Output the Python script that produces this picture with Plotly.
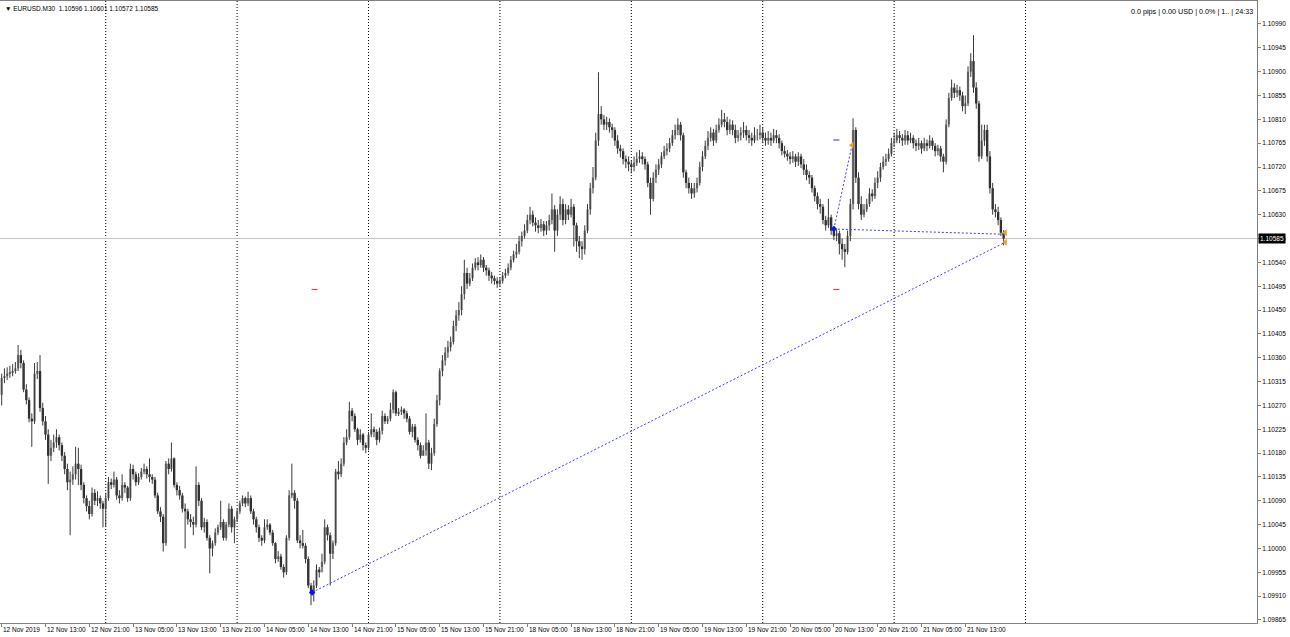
import plotly.graph_objects as go

# ---------------- data (prices in points above 1.10000) ----------------
BASE = 1.10000
PT = 0.00001

open_pts = [
    290, 322, 325, 330, 332, 335, 340, 365, 350, 300,
    280, 245, 240, 330, 335, 265, 240, 215, 175, 190,
    200, 210, 195, 175, 150, 125, 130, 140, 160, 150,
    120, 95, 80, 65, 105, 90, 95, 85, 75, 95,
    125, 120, 130, 100, 95, 120, 115, 95, 150, 140,
    125, 135, 145, 150, 140, 135, 130, 100, 70, 60,
    10, 160, 150, 170, 120, 110, 100, 75, 70, 55,
    50, 45, 120, 90, 40, 50, 20, 0, 10, 30,
    40, 50, 20, 45, 75, 40, 55, 70, 85, 95,
    85, 95, 70, 55, 40, 20, 15, 40, 45, 30,
    10, -20, -15, -35, -45, 20, 100, 105, 90, 15,
    10, 5, -20, -70, -85, -70, -40, -45, -25, 40,
    25, -10, 10, 145, 140, 160, 200, 210, 260, 250,
    225, 205, 215, 195, 190, 215, 225, 220, 205, 222,
    250, 240, 245, 262, 295, 255, 258, 262, 255, 245,
    220, 230, 205, 195, 175, 185, 200, 160, 180, 235,
    280, 335, 355, 370, 380, 390, 420, 440, 450, 480,
    520, 500, 510, 530, 540, 535, 545, 530, 525, 515,
    510, 505, 500, 505, 515, 520, 530, 545, 555, 560,
    580, 590, 600, 620, 630, 615, 610, 605, 612, 600,
    610, 620, 640, 600, 630, 650, 620, 640, 630, 645,
    610, 580, 570, 565, 600, 640, 680, 700, 770, 820,
    810, 800, 805, 795, 790, 770, 755, 750, 735, 730,
    725, 720, 728, 735, 740, 735, 725, 690, 660, 700,
    715, 725, 740, 750, 755, 765, 780, 790, 800, 780,
    710, 690, 680, 670, 680, 690, 720, 740, 760, 775,
    785, 770, 790, 800, 810, 805, 790, 800, 790, 775,
    780, 785, 790, 780, 775, 770, 780, 780, 785, 775,
    770, 775, 770, 780, 775, 765, 750, 745, 740, 735,
    740, 730, 740, 725, 715, 705, 700, 680, 665, 650,
    645, 620, 610, 625, 600, 590, 595, 575, 565, 560,
    590, 650, 790, 700, 650, 630, 640, 650, 670, 665,
    690, 700, 720, 730, 735, 745, 765, 770, 780, 775,
    770, 780, 770, 775, 765, 760, 765, 755, 765, 760,
    770, 760, 750, 755, 740, 730, 800, 850, 870, 860,
    865, 855, 835, 840, 900, 920, 870, 840, 740, 770,
    790, 740, 680, 640, 635, 620, 596,
]
high_pts = [
    330, 340, 342, 345, 348, 352, 384, 375, 355, 310,
    285, 255, 350, 352, 365, 275, 250, 225, 205, 215,
    225, 215, 200, 182, 160, 145, 155, 192, 190, 158,
    125, 100, 90, 115, 112, 108, 100, 90, 105, 135,
    132, 145, 135, 110, 140, 125, 118, 160, 158, 145,
    142, 152, 160, 155, 170, 140, 135, 105, 78, 65,
    165, 170, 200, 172, 125, 118, 105, 85, 75, 65,
    60, 155, 125, 95, 58, 55, 25, 15, 38, 45,
    90, 55, 50, 85, 80, 60, 75, 90, 100, 98,
    107, 100, 75, 60, 45, 25, 55, 55, 48, 35,
    12, -5, -10, -30, 25, 110, 160, 110, 95, 25,
    35, 10, -15, -65, -60, -30, -35, -10, 55, 45,
    30, 15, 150, 165, 170, 210, 225, 277, 265, 255,
    228, 225, 218, 200, 220, 255, 230, 225, 228, 260,
    255, 250, 275, 300, 298, 265, 268, 265, 260, 250,
    235, 235, 210, 200, 195, 255, 205, 190, 245, 290,
    340, 365, 380, 392, 400, 430, 450, 465, 495, 545,
    530, 520, 538, 548, 550, 555, 550, 535, 530, 522,
    515, 512, 512, 522, 528, 538, 552, 562, 575, 590,
    598, 612, 630, 645, 638, 625, 620, 622, 618, 618,
    630, 670, 648, 640, 665, 660, 650, 648, 660, 650,
    615, 590, 580, 610, 650, 690, 720, 785, 899, 835,
    818, 815, 812, 802, 795, 780, 762, 755, 742, 740,
    732, 740, 748, 752, 748, 740, 730, 700, 710, 725,
    735, 748, 760, 765, 775, 790, 800, 812, 805, 785,
    715, 700, 690, 690, 700, 730, 750, 770, 788, 795,
    792, 800, 812, 828, 822, 815, 810, 808, 800, 790,
    795, 805, 798, 790, 785, 795, 792, 800, 795, 785,
    788, 785, 792, 790, 782, 770, 760, 752, 748, 750,
    745, 748, 745, 735, 725, 712, 705, 685, 672, 660,
    650, 628, 660, 630, 608, 602, 600, 585, 575, 600,
    660, 812, 795, 710, 665, 650, 660, 680, 678, 700,
    712, 728, 740, 745, 755, 775, 785, 792, 788, 782,
    790, 788, 785, 780, 772, 775, 770, 775, 772, 780,
    775, 765, 762, 760, 745, 810, 860, 885, 878, 875,
    872, 862, 855, 910, 935, 969, 880, 845, 800, 800,
    800, 750, 690, 650, 645, 625, 601,
]
low_pts = [
    270, 312, 318, 322, 325, 330, 335, 340, 295, 272,
    238, 192, 235, 320, 258, 232, 205, 122, 165, 182,
    190, 185, 165, 140, 110, 25, 120, 130, 120, 110,
    85, 70, 55, 60, 82, 80, 75, 40, 41, 90,
    112, 115, 92, 85, 90, 105, 88, 90, 130, 118,
    120, 130, 140, 132, 125, 122, 95, 65, 50, -6,
    5, 140, 145, 115, 100, 92, 68, 0, 45, 40,
    25, 40, 80, 35, 30, 15, -47, -15, 5, 25,
    35, 15, 15, 40, 30, 10, 50, 65, 80, 78,
    80, 65, 45, 30, 12, 5, 10, 35, 25, 5,
    -28, -25, -40, -55, -50, 15, 95, 75, 10, 0,
    0, -28, -75, -107, -100, -75, -55, -35, -30, 15,
    -70, -20, 5, 130, 135, 155, 195, 205, 240, 220,
    195, 200, 185, 180, 185, 210, 210, 195, 200, 215,
    235, 235, 240, 255, 250, 250, 252, 245, 238, 215,
    210, 200, 185, 170, 175, 175, 150, 148, 175, 230,
    270, 325, 345, 360, 372, 385, 410, 430, 440, 470,
    490, 495, 505, 525, 525, 530, 522, 515, 505, 500,
    498, 492, 495, 500, 510, 515, 525, 540, 548, 555,
    570, 585, 595, 612, 608, 598, 595, 598, 590, 592,
    600, 612, 560, 590, 620, 610, 612, 620, 625, 570,
    560, 548, 545, 555, 595, 630, 670, 695, 760, 800,
    790, 790, 785, 775, 760, 745, 738, 725, 718, 712,
    708, 712, 722, 728, 725, 715, 682, 630, 655, 690,
    705, 718, 735, 742, 748, 760, 772, 780, 770, 700,
    680, 670, 660, 662, 672, 685, 712, 735, 752, 768,
    760, 765, 785, 795, 795, 780, 782, 780, 765, 768,
    770, 775, 770, 765, 760, 765, 770, 772, 765, 760,
    762, 760, 765, 765, 755, 742, 738, 732, 725, 728,
    720, 722, 718, 705, 695, 688, 672, 655, 640, 632,
    612, 600, 605, 592, 582, 580, 555, 545, 531, 555,
    580, 640, 690, 640, 620, 625, 635, 645, 655, 660,
    680, 692, 715, 722, 730, 740, 758, 765, 765, 760,
    762, 762, 765, 755, 750, 752, 745, 750, 750, 755,
    752, 740, 742, 730, 710, 725, 795, 845, 850, 852,
    845, 825, 820, 835, 890, 860, 830, 730, 735, 760,
    730, 670, 630, 625, 610, 590, 572,
]
close_pts = [
    322, 325, 330, 332, 335, 340, 365, 350, 300, 280,
    245, 240, 330, 335, 265, 240, 215, 175, 190, 200,
    210, 195, 175, 150, 125, 130, 140, 160, 150, 120,
    95, 80, 65, 105, 90, 95, 85, 75, 95, 125,
    120, 130, 100, 95, 120, 115, 95, 150, 140, 125,
    135, 145, 150, 140, 135, 130, 100, 70, 60, 10,
    160, 150, 170, 120, 110, 100, 75, 70, 55, 50,
    45, 120, 90, 40, 50, 20, 0, 10, 30, 40,
    50, 20, 45, 75, 40, 55, 70, 85, 95, 85,
    95, 70, 55, 40, 20, 15, 40, 45, 30, 10,
    -20, -15, -35, -45, 20, 100, 105, 90, 15, 10,
    5, -20, -70, -85, -70, -40, -45, -25, 40, 25,
    -10, 10, 145, 140, 160, 200, 210, 260, 250, 225,
    205, 215, 195, 190, 215, 225, 220, 205, 222, 250,
    240, 245, 262, 295, 255, 258, 262, 255, 245, 220,
    230, 205, 195, 175, 185, 200, 160, 180, 235, 280,
    335, 355, 370, 380, 390, 420, 440, 450, 480, 520,
    500, 510, 530, 540, 535, 545, 530, 525, 515, 510,
    505, 500, 505, 515, 520, 530, 545, 555, 560, 580,
    590, 600, 620, 630, 615, 610, 605, 612, 600, 610,
    620, 640, 600, 630, 650, 620, 640, 630, 645, 610,
    580, 570, 565, 600, 640, 680, 700, 770, 820, 810,
    800, 805, 795, 790, 770, 755, 750, 735, 730, 725,
    720, 728, 735, 740, 735, 725, 690, 660, 700, 715,
    725, 740, 750, 755, 765, 780, 790, 800, 780, 710,
    690, 680, 670, 680, 690, 720, 740, 760, 775, 785,
    770, 790, 800, 810, 805, 790, 800, 790, 775, 780,
    785, 790, 780, 775, 770, 780, 780, 785, 775, 770,
    775, 770, 780, 775, 765, 750, 745, 740, 735, 740,
    730, 740, 725, 715, 705, 700, 680, 665, 650, 645,
    620, 610, 625, 600, 590, 595, 575, 565, 560, 590,
    650, 790, 700, 650, 630, 640, 650, 670, 665, 690,
    700, 720, 730, 735, 745, 765, 770, 780, 775, 770,
    780, 770, 775, 765, 760, 765, 755, 765, 760, 770,
    760, 750, 755, 740, 730, 800, 850, 870, 860, 865,
    855, 835, 840, 900, 920, 870, 840, 740, 770, 790,
    740, 680, 640, 635, 620, 596, 585,
]

# time-axis labels (bar index -> label), and day separators (bar index)
xlabel_bars = [0, 16, 32, 48, 64, 80, 96, 112, 128, 144, 160, 176, 192, 208,
               224, 240, 256, 272, 288, 304, 320, 336, 352]
xlabel_text = ["12 Nov 2019", "12 Nov 13:00", "12 Nov 21:00", "13 Nov 05:00",
               "13 Nov 13:00", "13 Nov 21:00", "14 Nov 05:00", "14 Nov 13:00",
               "14 Nov 21:00", "15 Nov 05:00", "15 Nov 13:00", "15 Nov 21:00",
               "18 Nov 05:00", "18 Nov 13:00", "18 Nov 21:00", "19 Nov 05:00",
               "19 Nov 13:00", "19 Nov 21:00", "20 Nov 05:00", "20 Nov 13:00",
               "20 Nov 21:00", "21 Nov 05:00", "21 Nov 13:00"]
day_sep_bars = [38, 86, 134, 182, 230, 278, 326, 374]

y_ticks = [1.09865, 1.09910, 1.09955, 1.10000, 1.10045, 1.10090, 1.10135,
           1.10180, 1.10225, 1.10270, 1.10315, 1.10360, 1.10405, 1.10450,
           1.10495, 1.10540, 1.10585, 1.10630, 1.10675, 1.10720, 1.10765,
           1.10810, 1.10855, 1.10900, 1.10945, 1.10990]

bid_price = 1.10585

# trade objects (bar index, price)
trade1_x = [113.4, 366.6]
trade1_y = [1.09917, 1.10578]
trade2_x = [304.0, 310.6]
trade2_y = [1.10603, 1.10761]
trade3_x = [304.0, 366.6]
trade3_y = [1.10603, 1.10593]
entry_x = [113.4, 304.0]
entry_y = [1.09917, 1.10603]
exit_x = [310.6, 366.6, 366.6]
exit_y = [1.10761, 1.10596, 1.10578]
sl_x = [[113.2, 115.4], [303.8, 306.0]]
sl_y = [1.10489, 1.10489]
tp_x = [[303.8, 306.0]]
tp_y = [1.10771]

header_left = "▼ EURUSD.M30  1.10596 1.10601 1.10572 1.10585"
header_right = "0.0 pips | 0.00 USD | 0.0% | 1.. | 24:33"

# ---------------- figure ----------------
bars = list(range(len(close_pts)))
op = [BASE + v * PT for v in open_pts]
hi = [BASE + v * PT for v in high_pts]
lo = [BASE + v * PT for v in low_pts]
cl = [BASE + v * PT for v in close_pts]

FONT = "Liberation Sans"
fig = go.Figure()

# wicks
wx, wy = [], []
for i in bars:
    wx += [i, i, None]
    wy += [lo[i], hi[i], None]
fig.add_trace(go.Scatter(x=wx, y=wy, mode="lines",
                         line=dict(color="#3a3a3a", width=1),
                         hoverinfo="skip", showlegend=False))

# bodies
body_base = [min(o, c) for o, c in zip(op, cl)]
body_h = [abs(c - o) for o, c in zip(op, cl)]
body_col = ["#8a8a8a" if c >= o else "#262626" for o, c in zip(op, cl)]
fig.add_trace(go.Bar(x=bars, y=body_h, base=body_base, width=0.85,
                     marker=dict(color=body_col, line=dict(width=0)),
                     hoverinfo="skip", showlegend=False))

# trade lines
for xs, ys in [(trade1_x, trade1_y), (trade2_x, trade2_y), (trade3_x, trade3_y)]:
    fig.add_trace(go.Scatter(x=xs, y=ys, mode="lines",
                             line=dict(color="#3c3cff", width=1, dash="2px,2px"),
                             hoverinfo="skip", showlegend=False))
for xs, yv in zip(sl_x, sl_y):
    fig.add_trace(go.Scatter(x=xs, y=[yv, yv], mode="lines",
                             line=dict(color="#ff2020", width=1),
                             hoverinfo="skip", showlegend=False))
for xs, yv in zip(tp_x, tp_y):
    fig.add_trace(go.Scatter(x=xs, y=[yv, yv], mode="lines",
                             line=dict(color="#2020ff", width=1),
                             hoverinfo="skip", showlegend=False))
fig.add_trace(go.Scatter(x=entry_x, y=entry_y, mode="markers",
                         marker=dict(symbol="diamond", size=5, color="#1010ff"),
                         hoverinfo="skip", showlegend=False))
fig.add_trace(go.Scatter(x=exit_x, y=exit_y, mode="markers",
                         marker=dict(symbol="triangle-left", size=6, color="#f0a020"),
                         hoverinfo="skip", showlegend=False))

shapes = []
for b in day_sep_bars:
    shapes.append(dict(type="line", xref="x", yref="paper", x0=b, x1=b, y0=0, y1=1,
                       line=dict(color="#000000", width=1, dash="1px,2px"), layer="below"))
shapes.append(dict(type="line", xref="paper", yref="y", x0=0, x1=1,
                   y0=bid_price, y1=bid_price,
                   line=dict(color="#c0c0c0", width=1), layer="below"))

annotations = []
for b, t in zip(xlabel_bars, xlabel_text):
    annotations.append(dict(x=b - 0.2, y=0, xref="x", yref="paper", text=t,
                            showarrow=False, xanchor="left", yanchor="top",
                            yshift=-1, font=dict(family=FONT, size=6.5, color="#000")))
annotations.append(dict(x=1, y=bid_price, xref="paper", yref="y",
                        text="1.10585", showarrow=False, xanchor="left",
                        yanchor="middle", xshift=1, bgcolor="#000000", borderpad=1,
                        font=dict(family=FONT, size=6.5, color="#ffffff")))
annotations.append(dict(x=0, y=1, xref="paper", yref="paper", text=header_left,
                        showarrow=False, xanchor="left", yanchor="top", xshift=3,
                        yshift=-2, font=dict(family=FONT, size=6.5, color="#000")))
annotations.append(dict(x=1, y=1, xref="paper", yref="paper", text=header_right,
                        showarrow=False, xanchor="right", yanchor="top", xshift=-2,
                        yshift=-4, font=dict(family=FONT, size=7.2, color="#000")))

fig.update_layout(
    width=1290, height=637,
    margin=dict(l=0, r=33, t=1, b=14),
    paper_bgcolor="white", plot_bgcolor="white",
    showlegend=False, barmode="overlay",
    shapes=shapes, annotations=annotations,
    font=dict(family=FONT, size=6.5, color="#000"),
    xaxis=dict(range=[-0.62, 458.56], showgrid=False, zeroline=False,
               showline=True, linecolor="#808080", linewidth=1, mirror=True,
               ticks="outside", ticklen=3, tickcolor="#808080",
               tickvals=xlabel_bars, showticklabels=False),
    yaxis=dict(range=[1.098593, 1.110334], side="right", showgrid=False,
               zeroline=False, showline=True, linecolor="#808080", linewidth=1,
               mirror=True, ticks="outside", ticklen=3, tickcolor="#808080",
               tickvals=y_ticks, ticktext=[f"{v:.5f}" for v in y_ticks],
               tickfont=dict(family=FONT, size=6.5, color="#000")),
)

fig.write_html("out.html")
